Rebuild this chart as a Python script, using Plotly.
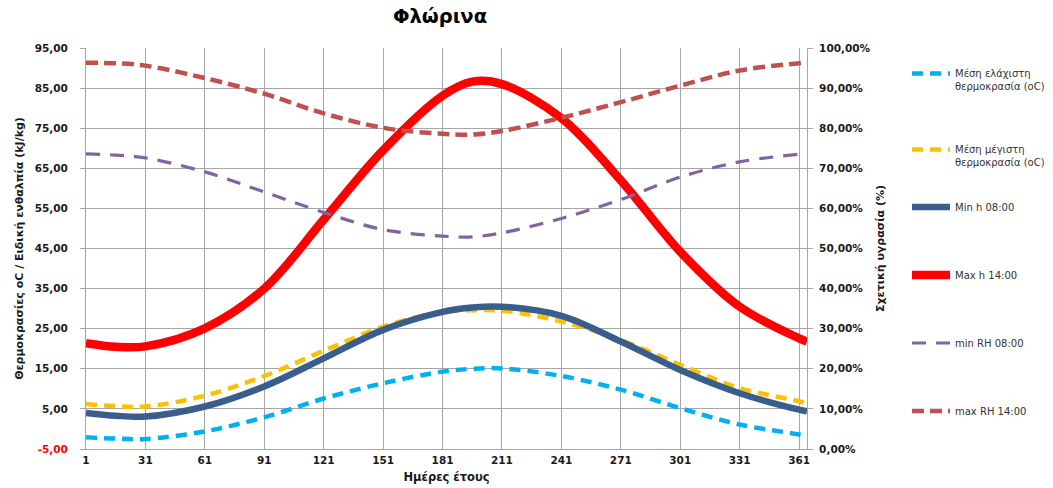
import plotly.graph_objects as go

# ---- data ----
days = [1, 16, 31, 61, 91, 121, 151, 181, 196, 211, 241, 271, 301, 331, 361, 365]
t_min_mean = [-2.1, -2.4, -2.5, -0.6, 2.9, 7.6, 11.4, 14.3, 15.0, 15.1, 13.2, 9.8, 5.2, 1.1, -1.4, -1.9]
t_max_mean = [6.2, 5.7, 5.6, 8.3, 13.2, 19.5, 25.5, 29.2, 29.6, 29.5, 26.8, 22.2, 16.0, 10.2, 6.9, 6.3]
h_min_08 = [4.0, 3.3, 3.1, 5.6, 10.6, 17.6, 24.7, 29.2, 30.3, 30.5, 28.2, 21.8, 14.7, 8.9, 4.8, 4.4]
h_max_14 = [21.4, 20.5, 20.6, 25.1, 35.0, 52.2, 69.5, 83.1, 86.6, 86.0, 77.5, 62.0, 44.2, 30.5, 22.6, 21.8]
rh_min_08 = [73.6, 73.3, 72.6, 69.1, 64.1, 59.0, 54.7, 53.1, 52.9, 53.9, 57.5, 62.2, 67.8, 71.6, 73.5, 73.6]
rh_max_14 = [96.3, 96.2, 95.6, 92.5, 88.6, 83.7, 80.1, 78.6, 78.4, 79.3, 82.6, 86.5, 90.6, 94.4, 96.2, 96.3]

x_ticks = [1, 31, 61, 91, 121, 151, 181, 211, 241, 271, 301, 331, 361]
left_ticks = [-5, 5, 15, 25, 35, 45, 55, 65, 75, 85, 95]
right_ticks = [0, 10, 20, 30, 40, 50, 60, 70, 80, 90, 100]

names = ["Μέση ελάχιστη<br>θερμοκρασία (oC)", "Μέση μέγιστη<br>θερμοκρασία (oC)",
         "Min h 08:00", "Max h 14:00", "min RH 08:00", "max RH 14:00"]

FONT = "DejaVu Sans"
GRID = "#a6a6a6"

W, H = 1053, 488
L, T, B = 86, 48, 39
R = W - 806.7


def cx(px):
    return px / W


def cy(py):
    return 1 - py / H


fig = go.Figure()
series = [
    (t_min_mean, names[0], "#00b0f0", 4.5, "11px,7px", "y", "legend"),
    (t_max_mean, names[1], "#ffc000", 4.5, "11px,7px", "y", "legend2"),
    (h_min_08, names[2], "#3a5e8c", 6.5, "solid", "y", "legend3"),
    (h_max_14, names[3], "#ff0000", 8.5, "solid", "y", "legend4"),
    (rh_min_08, names[4], "#8064a2", 3.2, "14px,10px", "y2", "legend5"),
    (rh_max_14, names[5], "#c0504d", 4.5, "12px,6px", "y2", "legend6"),
]
for vals, nm, col, w, dash, ax, lg in series:
    fig.add_trace(go.Scatter(
        x=days, y=vals, name=nm, mode="lines", yaxis=ax, legend=lg,
        line=dict(color=col, width=w, dash=dash, shape="spline", smoothing=1.0),
    ))

left_text = [f"{v:.2f}".replace(".", ",") for v in left_ticks]
left_text[0] = '<span style="color:#ff0000">' + left_text[0] + "</span>"
right_text = [f"{v:.2f}".replace(".", ",") + "%" for v in right_ticks]

tickfont = dict(family=FONT, size=10.5, color="#1a1a1a", weight="bold")
legfont = dict(family=FONT, size=10, color="#333333")

leg_common = dict(x=cx(907), xref="container", yref="container", xanchor="left",
                  yanchor="middle", font=legfont, bgcolor="rgba(0,0,0,0)",
                  borderwidth=0, itemwidth=38)
legend_y = [80, 156, 207, 275, 343, 411]

fig.update_layout(
    width=W, height=H,
    margin=dict(l=L, r=R, t=T, b=B, pad=0, autoexpand=False),
    paper_bgcolor="white", plot_bgcolor="white",
    title=dict(text="<b>Φλώρινα</b>", x=cx(440), xref="container", xanchor="center",
               y=cy(16), yref="container", yanchor="middle",
               font=dict(family=FONT, size=19.5, color="#000000")),
    xaxis=dict(range=[1, 365], tickmode="array", tickvals=x_ticks, automargin=False,
               ticktext=[str(v) for v in x_ticks], showgrid=True, gridcolor=GRID, gridwidth=1,
               zeroline=False, showline=True, linecolor=GRID, ticks="", ticklabelstandoff=1,
               tickfont=tickfont,
               title=dict(text="<b>Ημέρες έτους</b>", standoff=8,
                          font=dict(family=FONT, size=11.5, color="#1a1a1a"))),
    xaxis2=dict(range=[1, 365], overlaying="x", anchor="free", position=0.05, automargin=False,
                showgrid=False, zeroline=False, showline=True, linecolor=GRID,
                showticklabels=False, tickmode="linear", tick0=1, dtick=30, ticks="",
                minor=dict(tick0=1, dtick=6, ticks="inside", ticklen=4, tickcolor="#808080")),
    yaxis=dict(range=[-5, 95], tickmode="array", tickvals=left_ticks, ticktext=left_text,
               automargin=False,
               showgrid=True, gridcolor=GRID, gridwidth=1, zeroline=False,
               showline=True, linecolor=GRID, ticks="outside", ticklen=5, tickcolor=GRID,
               ticklabelstandoff=10, tickfont=tickfont,
               title=dict(text="<b>Θερμοκρασίες oC / Ειδική ενθαλπία (kJ/kg)</b>", standoff=8,
                          font=dict(family=FONT, size=11, color="#1a1a1a"))),
    yaxis2=dict(range=[0, 100], overlaying="y", side="right", tickmode="array",
                automargin=False,
                tickvals=right_ticks, ticktext=right_text, showgrid=False, zeroline=False,
                showline=True, linecolor=GRID, ticks="outside", ticklen=5, tickcolor=GRID,
                ticklabelstandoff=4, tickfont=tickfont,
                title=dict(text="<b>Σχετική υγρασία (%)</b>", standoff=6,
                           font=dict(family=FONT, size=11, color="#1a1a1a"))),
    showlegend=True,
    legend=dict(leg_common, y=cy(legend_y[0]), valign="top"),
    legend2=dict(leg_common, y=cy(legend_y[1]), valign="top"),
    legend3=dict(leg_common, y=cy(legend_y[2])),
    legend4=dict(leg_common, y=cy(legend_y[3])),
    legend5=dict(leg_common, y=cy(legend_y[4])),
    legend6=dict(leg_common, y=cy(legend_y[5])),
)

# remove the browser's default 8px page margin so the figure sits at the page corner
fig.write_html("out.html", config={"displayModeBar": False},
               post_script="document.body.style.margin='0';")
